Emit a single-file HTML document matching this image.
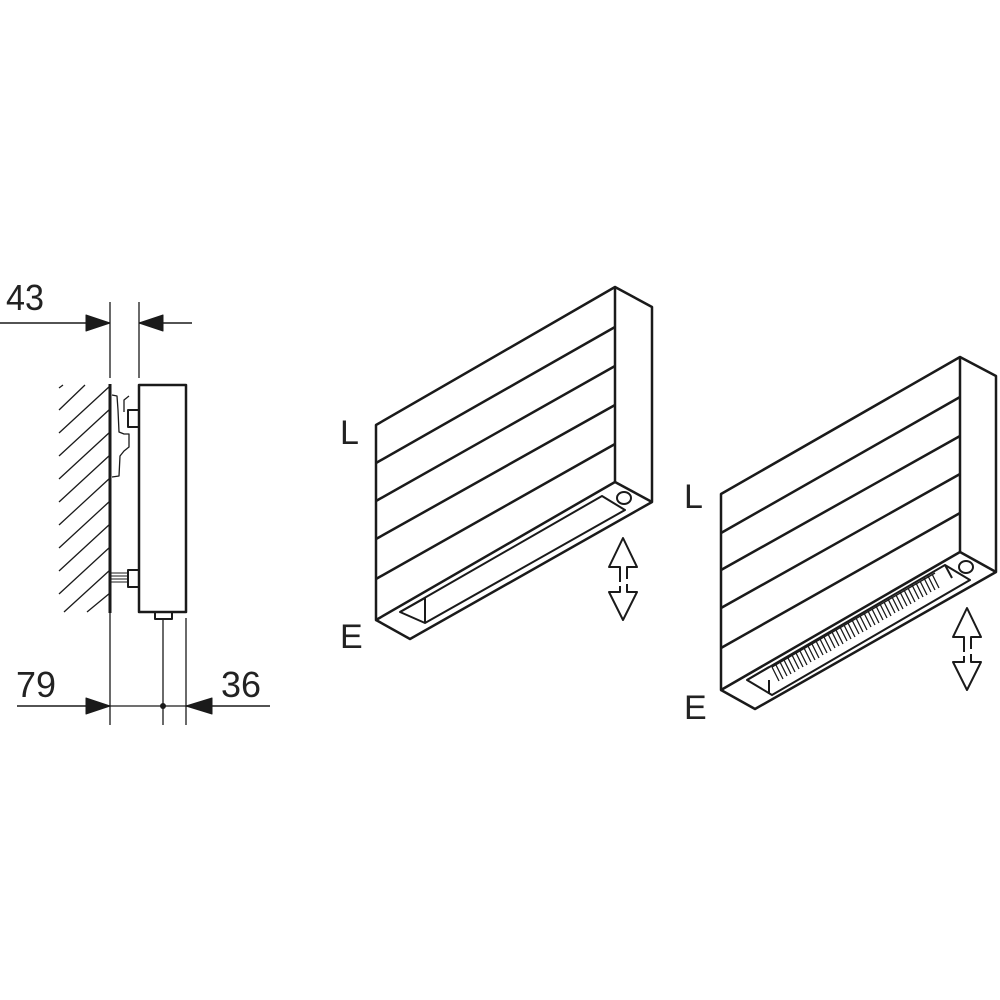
<!DOCTYPE html>
<html><head><meta charset="utf-8"><style>
html,body{margin:0;padding:0;background:#fff;}
svg{display:block;}
text{font-family:"Liberation Sans",sans-serif;fill:#222;}
</style></head><body>
<svg width="1000" height="1000" viewBox="0 0 1000 1000" xmlns="http://www.w3.org/2000/svg">
<g stroke="#1a1a1a" fill="none" stroke-linejoin="round">
<!-- LEFT DIAGRAM -->
<text x="6" y="310" font-size="36" stroke="none" textLength="38" lengthAdjust="spacingAndGlyphs">43</text>
<line x1="0" y1="323" x2="110" y2="323" stroke-width="1.5"/>
<polygon points="86,315 110,323 86,331" fill="#1a1a1a"/>
<line x1="139" y1="323" x2="192" y2="323" stroke-width="1.5"/>
<polygon points="163,315 139,323 163,331" fill="#1a1a1a"/>
<line x1="110" y1="302" x2="110" y2="378" stroke-width="1.3"/>
<line x1="139" y1="302" x2="139" y2="378" stroke-width="1.3"/>
<g stroke-width="1.3">
<line x1="59" y1="388" x2="63" y2="385"/>
<line x1="59" y1="410" x2="85" y2="385"/>
<line x1="59" y1="433" x2="110" y2="386"/>
<line x1="59" y1="456" x2="110" y2="409"/>
<line x1="59" y1="479" x2="110" y2="432"/>
<line x1="59" y1="502" x2="110" y2="455"/>
<line x1="59" y1="525" x2="110" y2="478"/>
<line x1="59" y1="548" x2="110" y2="501"/>
<line x1="59" y1="571" x2="110" y2="524"/>
<line x1="59" y1="594" x2="110" y2="547"/>
<line x1="64" y1="612" x2="110" y2="570"/>
<line x1="87" y1="612" x2="110" y2="593"/>
</g>
<line x1="110" y1="384" x2="110" y2="613" stroke-width="3"/>
<line x1="110" y1="613" x2="110" y2="725" stroke-width="1.3"/>
<rect x="139" y="385" width="47" height="227" stroke-width="2.5"/>
<rect x="128" y="410" width="11" height="17" stroke-width="2"/>
<path d="M112,395 L117,396 L118,410 L119,432 L124,434 L129,434 L129,447 L124,451 L120,456 L119,476 L112,477" stroke-width="1.3"/>
<path d="M124,412 L124,400 L129,396" stroke-width="1.3"/>
<rect x="128" y="570" width="11" height="17" stroke-width="2"/>
<path d="M111,573 L128,573 M111,576 L128,576 M111,579 L128,579 M111,582 L128,582" stroke-width="1"/>
<rect x="155" y="612" width="17" height="7" stroke-width="2"/>
<line x1="163" y1="619" x2="163" y2="725" stroke-width="1.3"/>
<line x1="186" y1="618" x2="186" y2="725" stroke-width="1.3"/>
<text x="16" y="697" font-size="36" stroke="none" textLength="40" lengthAdjust="spacingAndGlyphs">79</text>
<text x="221" y="697" font-size="36" stroke="none" textLength="40" lengthAdjust="spacingAndGlyphs">36</text>
<line x1="17" y1="706" x2="110" y2="706" stroke-width="1.5"/>
<polygon points="86,698 110,706 86,714" fill="#1a1a1a"/>
<line x1="110" y1="706" x2="186" y2="706" stroke-width="1.3"/>
<circle cx="163" cy="706" r="3" fill="#1a1a1a" stroke="none"/>
<line x1="186" y1="706" x2="270" y2="706" stroke-width="1.5"/>
<polygon points="212,698 186,706 212,714" fill="#1a1a1a"/>

<!-- MIDDLE DIAGRAM -->
<g stroke-width="2.5">
<polygon points="376,425 615,287 615,482 376,620"/>
<polyline points="615,287 652,307 652,502 410,639 376,620"/>
<line x1="615" y1="482" x2="652" y2="502"/>
<line x1="376" y1="463" x2="615" y2="327"/>
<line x1="376" y1="501" x2="615" y2="366"/>
<line x1="376" y1="539" x2="615" y2="405"/>
<line x1="376" y1="579" x2="615" y2="444"/>
</g>
<g stroke-width="2">
<polygon points="400,612 425,623 625,510 602,496"/>
<line x1="425" y1="598" x2="425" y2="623"/>
<line x1="400" y1="612" x2="425" y2="598"/>
<ellipse cx="624" cy="498" rx="7" ry="6"/>
</g>
<text x="340" y="444" font-size="34" stroke="none">L</text>
<text x="340" y="648" font-size="34" stroke="none">E</text>
<g stroke-width="2">
<polyline points="620,582 620,567 609,567 623,538 637,567 627,567 627,579"/>
<polyline points="620,586 620,592 609,592 623,620 637,592 627,592 627,584"/>
</g>

<!-- RIGHT DIAGRAM -->
<g stroke-width="2.5">
<polygon points="721,494 960,357 960,552 721,690"/>
<polyline points="960,357 996,376 996,572 755,709 721,690"/>
<line x1="960" y1="552" x2="996" y2="572"/>
<line x1="721" y1="533" x2="960" y2="397"/>
<line x1="721" y1="570" x2="960" y2="436"/>
<line x1="721" y1="608" x2="960" y2="474"/>
<line x1="721" y1="648" x2="960" y2="513"/>
</g>
<g stroke-width="2">
<polygon points="747,680 772,695 970,580 945,565"/>
<line x1="769" y1="680" x2="769" y2="694"/>
<line x1="747" y1="680" x2="769" y2="667"/>
<line x1="945" y1="565" x2="952" y2="578"/>
<ellipse cx="966" cy="567" rx="7" ry="6"/>
</g>
<g stroke-width="1.3">
<path d="M772,667 l7,14 M776,665 l7,14 M780,662 l7,14 M784,660 l7,14 M788,658 l7,14 M792,655 l7,14 M796,653 l7,14 M800,651 l7,14 M804,648 l7,14 M808,646 l7,14 M812,644 l7,14 M816,641 l7,14 M820,639 l7,14 M824,637 l7,14 M828,634 l7,14 M832,632 l7,14 M836,630 l7,14 M840,627 l7,14 M844,625 l7,14 M848,623 l7,14 M852,620 l7,14 M856,618 l7,14 M860,616 l7,14 M864,613 l7,14 M868,611 l7,14 M872,609 l7,14 M876,606 l7,14 M880,604 l7,14 M884,602 l7,14 M888,599 l7,14 M892,597 l7,14 M896,595 l7,14 M900,592 l7,14 M904,590 l7,14 M908,588 l7,14 M912,585 l7,14 M916,583 l7,14 M920,581 l7,14 M924,578 l7,14 M928,576 l7,14 M932,574 l7,14"/>
<line x1="772" y1="667" x2="935" y2="573"/>
</g>
<text x="684" y="508" font-size="34" stroke="none">L</text>
<text x="684" y="719" font-size="34" stroke="none">E</text>
<g stroke-width="2">
<polyline points="964,652 964,637 953,637 967,608 981,637 971,637 971,649"/>
<polyline points="964,656 964,662 953,662 967,690 981,662 971,662 971,654"/>
</g>
</g>
</svg>
</body></html>
